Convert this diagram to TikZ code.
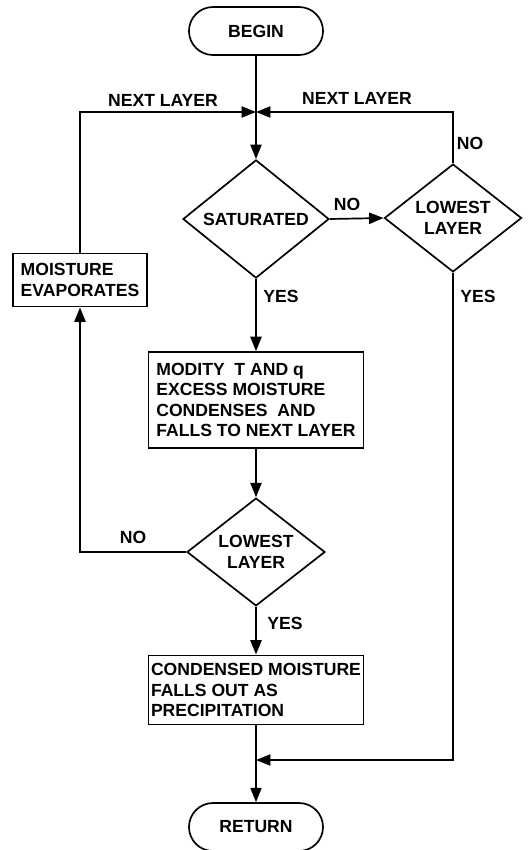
\documentclass[tikz,border=0pt]{standalone}
\usepackage{fontspec}
\setmainfont{Liberation Sans}
\usepackage{tikz}
\usetikzlibrary{shapes.geometric, arrows.meta, positioning, calc}

\tikzset{
    base/.style={font=\bfseries\fontsize{12.5}{14.5}\selectfont},
    term/.style={base, draw, rectangle, rounded corners=0.6cm, minimum width=3.35cm, minimum height=1.2cm},
    decide/.style={base, draw, diamond, inner sep=0pt, align=center},
    procbox/.style={base, draw, rectangle, align=left, inner sep=1pt},
    lbl/.style={base},
    arr/.style={-{Triangle[length=3.6mm,width=2.8mm]}},
}

\begin{document}
\begin{tikzpicture}[x=0.025cm, y=-0.025cm, line width=1.2pt]
    \useasboundingbox (0,0) rectangle (528,850);

    \node[term] (begin) at (256,31) {BEGIN};
    \node[decide, minimum width=3.65cm, minimum height=2.375cm] (sat) at (256,219) {SATURATED};
    \node[decide, minimum width=3.43cm, minimum height=2.23cm] (low1) at (453,218) {LOWEST\\LAYER};
    \node[procbox, minimum width=3.35cm, minimum height=1.33cm] (evap) at (80,280) {MOISTURE\\EVAPORATES};
    \node[procbox, minimum width=5.375cm, minimum height=2.4cm] (mod) at (256,400) {MODITY\ \ T AND q\\EXCESS MOISTURE\\CONDENSES\ \ AND\\FALLS TO NEXT LAYER};
    \node[decide, minimum width=3.45cm, minimum height=2.25cm] (low2) at (256,552) {LOWEST\\LAYER};
    \node[procbox, minimum width=5.375cm, minimum height=1.73cm] (cond) at (256,690) {CONDENSED MOISTURE\\FALLS OUT AS\\PRECIPITATION};
    \node[term] (ret) at (256,827) {RETURN};

    \coordinate (join) at (256,112);
    \coordinate (merge) at (256,760);

    % labels
    \node[lbl] (nextl) at (163,100) {NEXT LAYER};
    \node[lbl] (nextr) at (357,98) {NEXT LAYER};
    \node[lbl] (nor) at (470,143) {NO};
    \node[lbl] (nosat) at (347,204) {NO};
    \node[lbl] (yessat) at (281,296) {YES};
    \node[lbl] (yesr) at (478,296) {YES};
    \node[lbl] (nolow) at (133,537) {NO};
    \node[lbl] (yeslow) at (285,623) {YES};

    \draw[arr] (begin) -- (sat);
    \draw[arr] (evap.north) |- (join);
    \draw[arr] (low1.north) |- (join);
    \draw[arr] (sat.east) -- (low1.west);
    \draw[arr] (sat.south) -- (mod.north);
    \draw[arr] (mod.south) -- (low2.north);
    \draw[arr] (low2.west) -| (evap.south);
    \draw[arr] (low2.south) -- (cond.north);
    \draw[arr] (low1.south) |- (merge);
    \draw[arr] (cond.south) -- (ret.north);
\end{tikzpicture}
\end{document}
